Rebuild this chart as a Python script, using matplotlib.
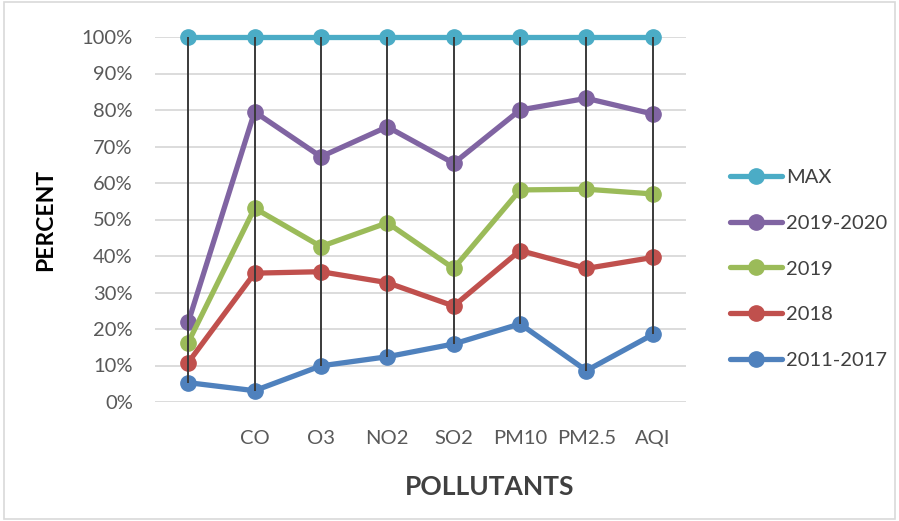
import matplotlib.pyplot as plt
from matplotlib.patches import Rectangle
from matplotlib.ticker import PercentFormatter

plt.rcParams['font.family'] = ['Lato', 'DejaVu Sans']

# pollutant categories (the first column is the overall / unlabeled point)
categories = ["", "CO", "O3", "NO2", "SO2", "PM10", "PM2.5", "AQI"]

max_vals = [100, 100, 100, 100, 100, 100, 100, 100]
y2019_2020 = [21.8, 79.5, 67.2, 75.4, 65.4, 80.0, 83.2, 78.9]
y2019 = [16.3, 53.1, 42.6, 49.1, 36.6, 58.1, 58.3, 57.0]
y2018 = [10.8, 35.3, 35.7, 32.7, 26.3, 41.5, 36.6, 39.6]
y2011_2017 = [5.3, 3.1, 9.9, 12.4, 15.9, 21.4, 8.6, 18.5]

series = [
    ("MAX", max_vals, "#4BACC6"),
    ("2019-2020", y2019_2020, "#8064A2"),
    ("2019", y2019, "#9BBB59"),
    ("2018", y2018, "#C0504D"),
    ("2011-2017", y2011_2017, "#4F81BD"),
]

fig = plt.figure(figsize=(8.99, 5.21), dpi=100)
ax = fig.add_axes([155 / 899, 1 - 402 / 521, (686 - 155) / 899, (402 - 37) / 521])

x = list(range(len(categories)))
for name, vals, color in series:
    ax.plot(x, [v / 100 for v in vals], color=color, lw=3.8, marker="o",
            markersize=11, label=name, clip_on=False, zorder=3,
            solid_capstyle="round")

# high-low lines between the top and bottom series
all_vals = [s[1] for s in series]
lows = [min(col) / 100 for col in zip(*all_vals)]
highs = [max(col) / 100 for col in zip(*all_vals)]
ax.vlines(x, lows, highs, color="#3a3a3a", lw=1.4, zorder=4)

ax.set_xlim(-0.5, len(categories) - 0.5)
ax.set_ylim(0, 1)
ax.set_yticks([i / 10 for i in range(11)])
ax.yaxis.set_major_formatter(PercentFormatter(1.0, decimals=0))
ax.set_xticks(x)
ax.set_xticklabels(categories)
ax.grid(axis="y", color="#d9d9d9", lw=1.3, zorder=0)
ax.set_axisbelow(True)
for sp in ax.spines.values():
    sp.set_visible(False)
ax.tick_params(axis="both", length=0, labelsize=14.5, colors="#595959")
ax.tick_params(axis="y", pad=16)
ax.tick_params(axis="x", pad=20)

fig.text(46 / 899, 1 - 220 / 521, "PERCENT", rotation=90, fontsize=16.5,
         fontweight="bold", ha="center", va="center", color="black")
fig.text(490 / 899, 1 - 487 / 521, "POLLUTANTS", fontsize=19,
         fontweight="bold", ha="center", va="center", color="#404040")

leg = ax.legend(loc="upper left", bbox_to_anchor=(722 / 899, 1 - 161 / 521),
                bbox_transform=fig.transFigure, frameon=False, fontsize=14.5,
                handlelength=2.6, handletextpad=0.2, labelspacing=1.42,
                borderaxespad=0)
for t in leg.get_texts():
    t.set_color("#404040")

# light frame around the whole chart
fig.patches.append(Rectangle((0.004, 0.004), 0.992, 0.992, transform=fig.transFigure,
                             fill=False, edgecolor="#d9d9d9", lw=1.2))

fig.savefig("out.png", dpi=100)
